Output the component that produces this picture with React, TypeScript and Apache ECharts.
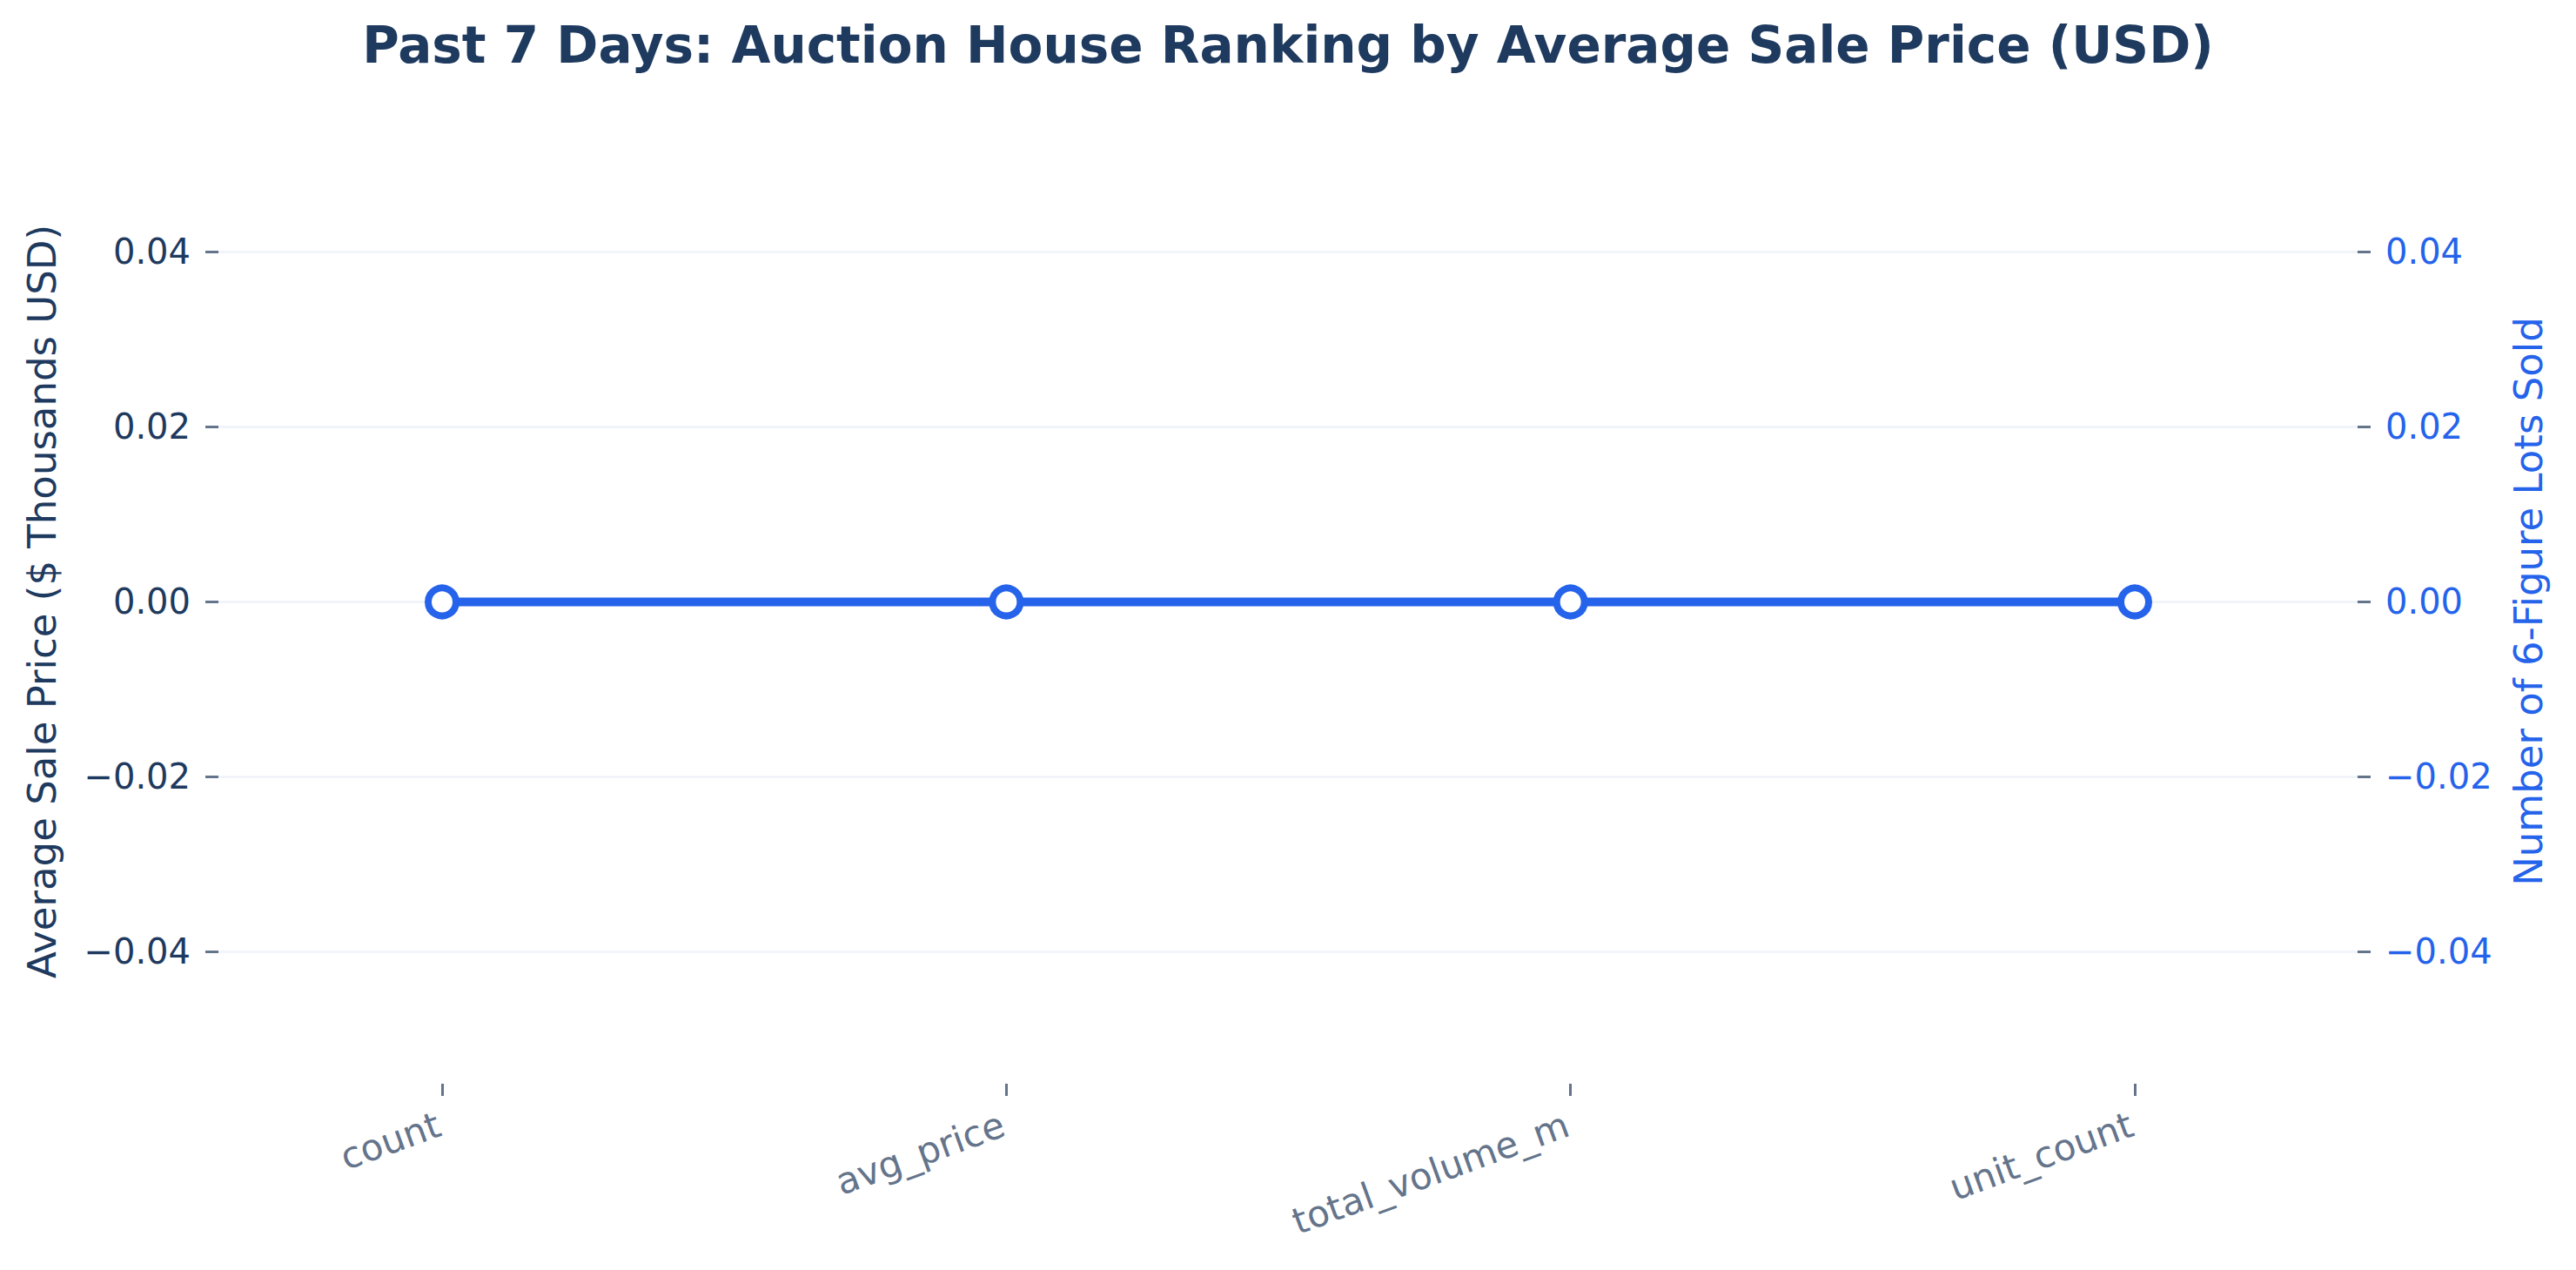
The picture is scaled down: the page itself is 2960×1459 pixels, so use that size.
import React, { useEffect, useRef } from "react";
import * as echarts from "echarts";

const categories = ["count", "avg_price", "total_volume_m", "unit_count"];
const lotsSold = [0, 0, 0, 0];
const tickMin = -0.04;
const tickMax = 0.04;
const tickStep = 0.02;
const dataMin = -0.055;
const dataMax = 0.055;

const titleText = "Past 7 Days: Auction House Ranking by Average Sale Price (USD)";
const leftName = "Average Sale Price ($ Thousands USD)";
const rightName = "Number of 6-Figure Lots Sold";

const NAVY = "#1e3a5f";
const BLUE = "#2563eb";
const GRAY = "#64748b";
const FONT = "DejaVu Sans";

const fmt = (v: number) => {
  const s = Math.abs(v) < 1e-9 ? "0.00" : v.toFixed(2);
  return s.replace("-", "\u2212");
};

export default function App() {
  const ref = useRef<HTMLDivElement>(null);
  useEffect(() => {
    if (!ref.current) return;
    const chart = echarts.init(ref.current, undefined, { renderer: "svg" });
    const tickAxisCommon = {
      type: "value" as const,
      gridIndex: 1,
      min: tickMin,
      max: tickMax,
      interval: tickStep,
      axisLine: { show: false },
      axisTick: { show: true, length: 15, lineStyle: { color: GRAY, width: 3 } },
      nameLocation: "middle" as const,
      nameRotate: 90,
    };
    chart.setOption({
      animation: false,
      backgroundColor: "#ffffff",
      title: {
        text: titleText,
        left: "center",
        top: 18,
        textStyle: { fontFamily: FONT, fontSize: 58, fontWeight: "bold", color: NAVY },
      },
      grid: [
        { left: 508, right: 507, top: 138, bottom: 214 },
        { left: 251, right: 251, top: 289, bottom: 366 },
      ],
      xAxis: [
        {
          type: "category",
          gridIndex: 0,
          position: "bottom",
          data: categories,
          boundaryGap: false,
          axisLine: { show: true, onZero: false, lineStyle: { color: "#ffffff", width: 1, opacity: 0 } },
          axisTick: {
            show: true,
            inside: false,
            length: 14,
            interval: 0,
            lineStyle: { color: GRAY, width: 3, opacity: 1 },
          },
          axisLabel: {
            rotate: 20,
            margin: 44,
            padding: [0, 4, 0, 0],
            fontFamily: FONT,
            fontSize: 42,
            color: GRAY,
            interval: 0,
          },
          splitLine: { show: false },
        },
        { type: "value", gridIndex: 1, show: false, min: 0, max: 1 },
      ],
      yAxis: [
        {
          ...tickAxisCommon,
          position: "left",
          name: leftName,
          nameGap: 180,
          nameTextStyle: { fontFamily: FONT, fontSize: 45, color: NAVY },
          axisLabel: { margin: 32, fontFamily: FONT, fontSize: 40, color: NAVY, formatter: fmt },
          splitLine: { show: true, lineStyle: { color: "#f1f5f9", width: 3 } },
        },
        {
          ...tickAxisCommon,
          position: "right",
          name: rightName,
          nameGap: 174,
          nameTextStyle: { fontFamily: FONT, fontSize: 45, color: BLUE },
          axisLabel: { margin: 32, fontFamily: FONT, fontSize: 40, color: BLUE, formatter: fmt },
          splitLine: { show: false },
        },
        {
          type: "value",
          gridIndex: 0,
          min: dataMin,
          max: dataMax,
          axisLine: { show: false, onZero: false },
          axisTick: { show: false },
          axisLabel: { show: false },
          splitLine: { show: false },
        },
      ],
      series: [
        {
          name: rightName,
          type: "line",
          xAxisIndex: 0,
          yAxisIndex: 2,
          data: lotsSold,
          symbol: "circle",
          symbolSize: 32,
          showSymbol: true,
          lineStyle: { color: BLUE, width: 10 },
          itemStyle: { color: "#ffffff", borderColor: BLUE, borderWidth: 8 },
          z: 5,
        },
      ],
    });
    return () => chart.dispose();
  }, []);
  return (
    <div
      ref={ref}
      style={{ position: "fixed", left: 0, top: 0, width: 2960, height: 1459 }}
    />
  );
}
